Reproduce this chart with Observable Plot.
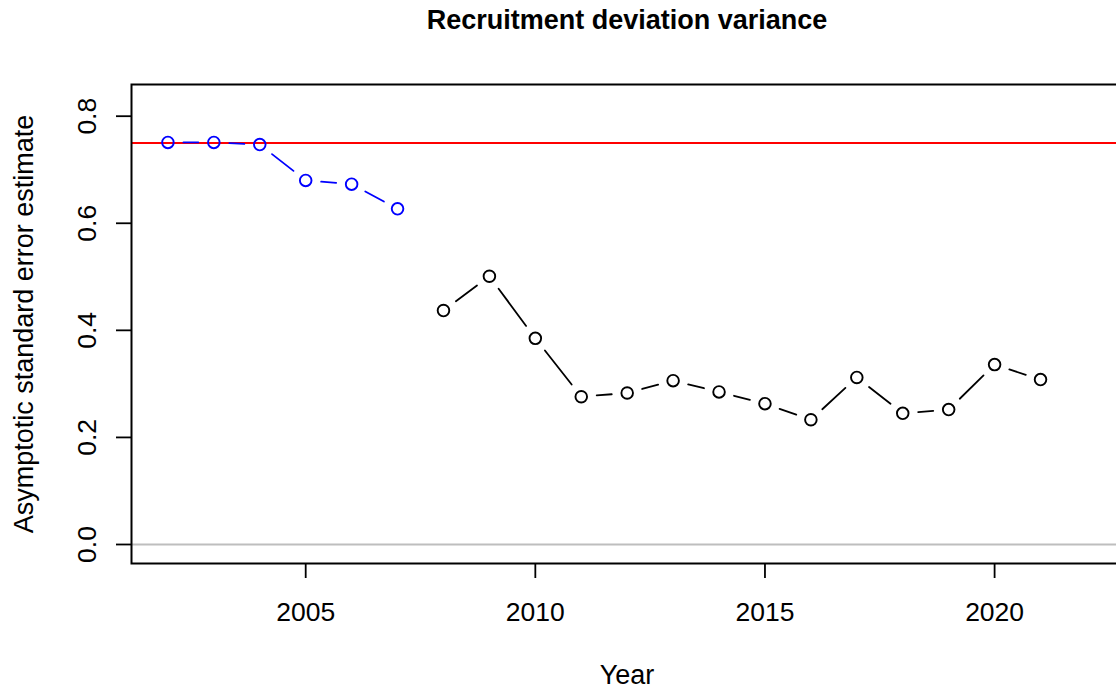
<!DOCTYPE html>
<html>
<head>
<meta charset="utf-8">
<script src="https://cdn.jsdelivr.net/npm/d3@7"></script>
<script src="https://cdn.jsdelivr.net/npm/@observablehq/plot@0.6"></script>
<style>
  html, body { margin: 0; padding: 0; background: #fff; overflow: hidden; width: 1116px; height: 690px; }
  #chart { width: 1116px; height: 690px; overflow: hidden; }
  #chart svg { display: block; max-width: none !important; width: 1122px !important; height: 690px !important; }
</style>
</head>
<body>
<div id="chart"></div>
<script>
// ---- data ----
const titleText = "Recruitment deviation variance";
const xLabel = "Year";
const yLabel = "Asymptotic standard error estimate";
const yearsEarly = [2002, 2003, 2004, 2005, 2006, 2007];
const seEarly    = [0.751, 0.751, 0.747, 0.680, 0.673, 0.627];
const yearsLate  = [2008, 2009, 2010, 2011, 2012, 2013, 2014, 2015, 2016, 2017, 2018, 2019, 2020, 2021];
const seLate     = [0.437, 0.501, 0.385, 0.276, 0.283, 0.306, 0.285, 0.263, 0.233, 0.312, 0.245, 0.252, 0.336, 0.308];
const refValue = 0.75;
const zeroValue = 0;
const xTicks = [2005, 2010, 2015, 2020];
const yTicks = [0.0, 0.2, 0.4, 0.6, 0.8];

// ---- derived tables ----
const early = yearsEarly.map((y, i) => ({year: y, se: seEarly[i]}));
const late = yearsLate.map((y, i) => ({year: y, se: seLate[i]}));
const segs = arr => arr.slice(1).map((d, i) => ({x1: arr[i].year, y1: arr[i].se, x2: d.year, y2: d.se}));

const font = "'Liberation Sans', Arial, Helvetica, sans-serif";

const chart = Plot.plot({
  width: 1122,
  height: 690,
  marginLeft: 131,
  marginRight: 0,
  marginTop: 84,
  marginBottom: 127,
  style: {fontFamily: font, color: "black", background: "white", overflow: "visible", maxWidth: "none"},
  x: {domain: [2001.207, 2022.785], label: null},
  y: {domain: [-0.0355, 0.8592], label: null},
  marks: [
    Plot.ruleY([zeroValue], {stroke: "#bebebe", strokeWidth: 2}),
    Plot.ruleY([refValue], {stroke: "#ff0000", strokeWidth: 2}),
    Plot.arrow(segs(early), {x1: "x1", y1: "y1", x2: "x2", y2: "y2", stroke: "#0000ff", strokeWidth: 1.8, headLength: 0, inset: 15.5}),
    Plot.arrow(segs(late), {x1: "x1", y1: "y1", x2: "x2", y2: "y2", stroke: "black", strokeWidth: 1.8, headLength: 0, inset: 15.5}),
    Plot.dot(early, {x: "year", y: "se", r: 5.8, stroke: "#0000ff", strokeWidth: 1.9, fill: "none"}),
    Plot.dot(late, {x: "year", y: "se", r: 5.8, stroke: "black", strokeWidth: 1.9, fill: "none"}),
    Plot.frame({stroke: "black", strokeWidth: 2}),
    Plot.axisX({ticks: xTicks, tickSize: 15, tickPadding: 24, fontSize: 26.5, tickFormat: d => String(d), label: null, stroke: "black", strokeWidth: 1.8}),
    Plot.axisY({ticks: yTicks, tickSize: 15, tickFormat: () => "", label: null, stroke: "black", strokeWidth: 1.8}),
    Plot.text(yTicks, {y: d => d, text: d => d.toFixed(1), frameAnchor: "left", dx: -44, rotate: -90, fontSize: 26.5, textAnchor: "middle", lineAnchor: "middle", fill: "black"}),
    Plot.text([yLabel], {text: d => d, frameAnchor: "left", dx: -107, rotate: -90, fontSize: 27, textAnchor: "middle", lineAnchor: "middle", fill: "black"}),
    Plot.text([xLabel], {text: d => d, frameAnchor: "bottom", dy: 112, fontSize: 27, lineAnchor: "middle", fill: "black"}),
    Plot.text([titleText], {text: d => d, frameAnchor: "top", dy: -64, fontSize: 27, fontWeight: "bold", lineAnchor: "middle", fill: "black"})
  ]
});
document.getElementById("chart").appendChild(chart);
</script>
</body>
</html>
